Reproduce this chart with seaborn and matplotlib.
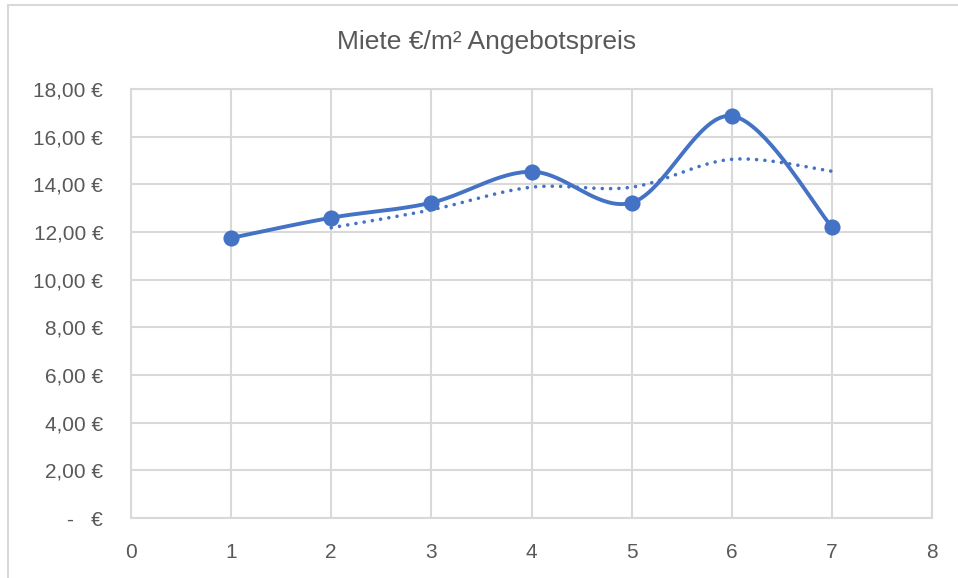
import matplotlib
matplotlib.use('Agg')
import matplotlib.pyplot as plt
import seaborn as sns
import numpy as np
import pandas as pd
from matplotlib.patches import Rectangle


# values
X_VALUES = [1, 2, 3, 4, 5, 6, 7]
PRICES = [11.75, 12.60, 13.23, 14.53, 13.23, 16.87, 12.22]
# 2-period moving average trendline, starts at x = 2
MA_X = [2, 3, 4, 5, 6, 7]
MA_VALUES = [12.18, 12.93, 13.88, 13.88, 15.05, 14.55]

TITLE = "Miete €/m² Angebotspreis"
LINE_COLOR = '#4472C4'
GRID_COLOR = '#D9D9D9'
TEXT_COLOR = '#595959'


def smooth(xs, ys, steps = 40):
    """
        Excel-style smoothed line (Catmull-Rom Bezier between points).
    """
    px = np.array(xs, dtype = float)
    py = np.array(ys, dtype = float)
    px = np.concatenate([[px[0]], px, [px[-1]]])
    py = np.concatenate([[py[0]], py, [py[-1]]])
    out_x, out_y = [], []
    t = np.linspace(0, 1, steps)
    for i in range(1, len(px) - 2):
        p0 = np.array([px[i], py[i]])
        p3 = np.array([px[i + 1], py[i + 1]])
        p1 = p0 + (np.array([px[i + 1], py[i + 1]]) - np.array([px[i - 1], py[i - 1]])) / 6
        p2 = p3 - (np.array([px[i + 2], py[i + 2]]) - np.array([px[i], py[i]])) / 6
        b = ((1 - t) ** 3)[:, None] * p0 + (3 * (1 - t) ** 2 * t)[:, None] * p1 \
            + (3 * (1 - t) * t ** 2)[:, None] * p2 + (t ** 3)[:, None] * p3
        out_x.extend(b[:, 0])
        out_y.extend(b[:, 1])
    return pd.DataFrame({'x': out_x, 'y': out_y})


def euro(v, pos = None):
    if abs(v) < 1e-9:
        return "-   €"
    return f"{v:.2f}".replace('.', ',') + " €"


sns.set_style('white')
plt.rcParams['font.family'] = ['Liberation Sans', 'DejaVu Sans']

fig = plt.figure(figsize = (9.58, 5.78), dpi = 100)
ax = fig.add_axes([131 / 958, 1 - 518 / 578, 801 / 958, 429 / 578])

# chart border
fig.patches.append(Rectangle((8 / 958, -0.05), 1.2, 1 - 5 / 578 + 0.05,
                             transform = fig.transFigure, fill = False,
                             edgecolor = GRID_COLOR, linewidth = 1.5))

curve = smooth(X_VALUES, PRICES)
ma_curve = smooth(MA_X, MA_VALUES)
points = pd.DataFrame({'x': X_VALUES, 'y': PRICES})

sns.lineplot(data = ma_curve, x = 'x', y = 'y', sort = False, ax = ax,
             color = LINE_COLOR, linewidth = 2.6, linestyle = (0, (0.01, 2.3)),
             dash_capstyle = 'round', zorder = 3)
sns.lineplot(data = curve, x = 'x', y = 'y', sort = False, ax = ax,
             color = LINE_COLOR, linewidth = 2.8, zorder = 4)
sns.scatterplot(data = points, x = 'x', y = 'y', ax = ax, color = LINE_COLOR,
                s = 135, edgecolor = LINE_COLOR, linewidth = 0, zorder = 5)

ax.set_xlim(0, 8)
ax.set_ylim(0, 18)
ax.set_xticks(range(0, 9))
ax.set_yticks(range(0, 19, 2))
ax.yaxis.set_major_formatter(matplotlib.ticker.FuncFormatter(euro))
ax.set_xlabel('')
ax.set_ylabel('')

ax.grid(True, color = GRID_COLOR, linewidth = 1.5)
ax.set_axisbelow(True)
for side in ['top', 'right', 'left', 'bottom']:
    ax.spines[side].set_color(GRID_COLOR)
    ax.spines[side].set_linewidth(1.5)

ax.tick_params(axis = 'both', length = 0, labelsize = 15, labelcolor = TEXT_COLOR)
ax.tick_params(axis = 'y', pad = 20)
ax.tick_params(axis = 'x', pad = 18)

fig.text(487 / 958, 1 - 42 / 578, TITLE, ha = 'center', va = 'center',
         fontsize = 19, color = TEXT_COLOR)

fig.savefig('out.png', dpi = 100)
plt.close(fig)
